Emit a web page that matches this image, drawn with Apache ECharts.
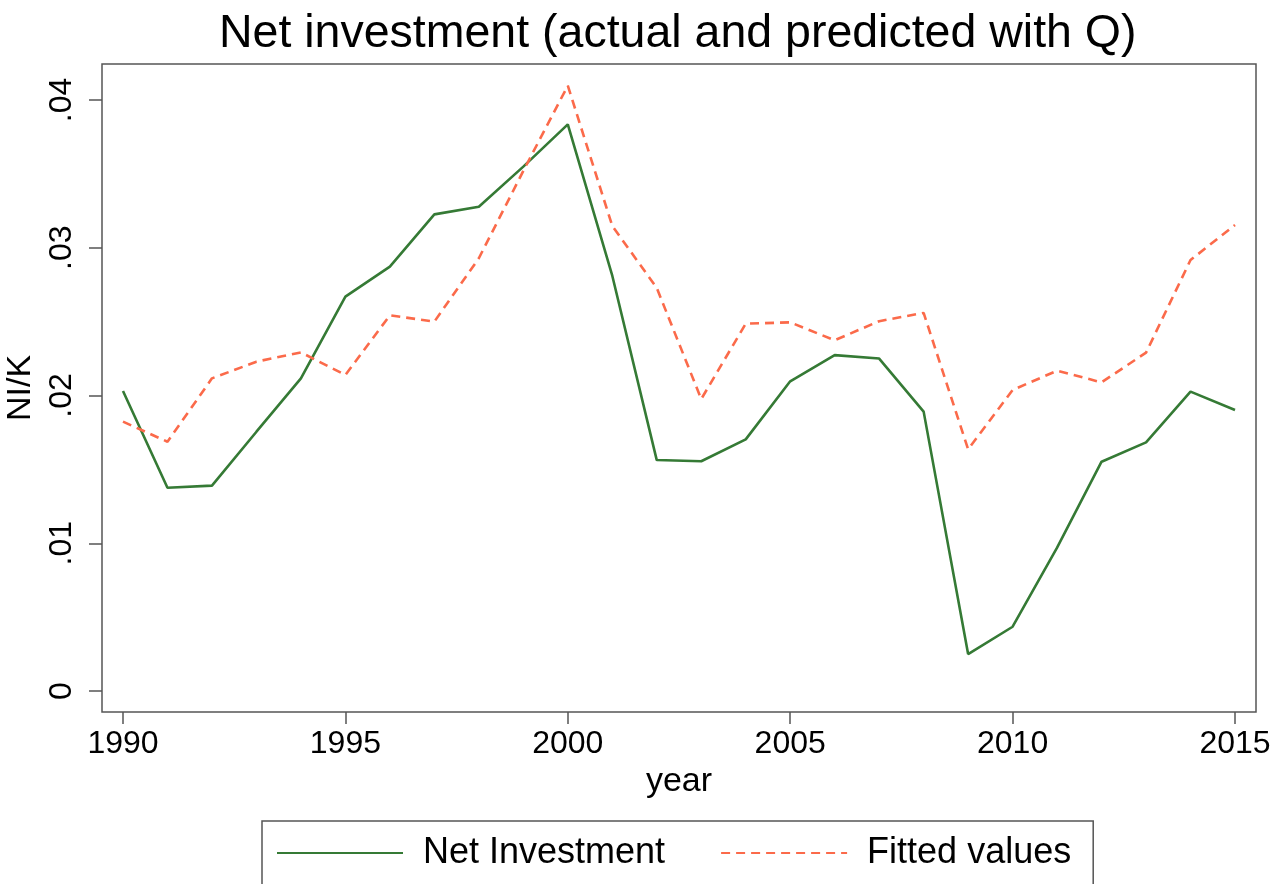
<!DOCTYPE html>
<html>
<head>
<meta charset="utf-8">
<script src="https://cdn.jsdelivr.net/npm/echarts@6/dist/echarts.min.js"></script>
<style>
html,body{margin:0;padding:0;background:#fff;}
#chart{width:1281px;height:884px;}
</style>
</head>
<body>
<div id="chart"></div>
<script>
const years = [1990,1991,1992,1993,1994,1995,1996,1997,1998,1999,2000,2001,2002,2003,2004,2005,2006,2007,2008,2009,2010,2011,2012,2013,2014,2015];
const netInvestment = [0.0203,0.01376,0.0139,0.01755,0.02116,0.02669,0.02872,0.03226,0.03278,0.03549,0.03835,0.02811,0.01563,0.01555,0.01703,0.02096,0.02273,0.0225,0.01891,0.0025,0.00435,0.0097,0.01552,0.01683,0.02026,0.01902];
const fittedValues = [0.01823,0.01687,0.02116,0.02229,0.02292,0.02139,0.02543,0.025,0.02929,0.0352,0.04097,0.03148,0.02728,0.01976,0.02486,0.02495,0.02374,0.02503,0.02559,0.01636,0.02037,0.02168,0.02089,0.0229,0.02917,0.03154];
const xTicks = [1990,1995,2000,2005,2010,2015];
const yTicks = [0,0.01,0.02,0.03,0.04];
const seriesNames = ['Net Investment','Fitted values'];
const titleText = 'Net investment (actual and predicted with Q)';
const xName = 'year';
const yName = 'NI/K';

const FONT = "'Liberation Sans', Arial, Helvetica, sans-serif";
const chart = echarts.init(document.getElementById('chart'), null, {renderer:'canvas'});
chart.setOption({
  backgroundColor:'#fff',
  animation:false,
  title:{
    text:titleText, left:214, top:6,
    textStyle:{fontFamily:FONT, fontSize:46.5, fontWeight:'normal', color:'#000'}
  },
  legend:{
    data:seriesNames, left:262, top:821, orient:'horizontal',
    padding:[14,22,14,14], borderColor:'#555', borderWidth:1.5,
    itemWidth:126, itemHeight:20, itemGap:55,
    itemStyle:{opacity:0, color:'rgba(0,0,0,0)', borderWidth:0},
    textStyle:{fontFamily:FONT, fontSize:36, color:'#000', padding:[0,0,0,15]}
  },
  grid:{left:102, top:64, width:1154, height:648, show:true, borderColor:'#555', borderWidth:1.5,
        backgroundColor:'transparent', outerBoundsMode:'none', containLabel:false},
  xAxis:{type:'value', min:1989.528, max:2015.472, position:'bottom',
     name:xName, nameLocation:'middle', nameGap:52,
     nameTextStyle:{fontFamily:FONT, fontSize:34, color:'#000'},
     axisLine:{show:false, onZero:false},
     axisTick:{show:true, inside:false, length:12, customValues:xTicks, lineStyle:{color:'#555', width:1.5}},
     axisLabel:{fontFamily:FONT, fontSize:32, color:'#000', margin:16, customValues:xTicks, formatter:v=>String(Math.round(v))},
     splitLine:{show:false}},
  yAxis:{type:'value', min:-0.001421, max:0.042437, position:'left',
     name:yName, nameLocation:'middle', nameGap:62, nameRotate:90,
     nameTextStyle:{fontFamily:FONT, fontSize:34, color:'#000'},
     axisLine:{show:false, onZero:false},
     axisTick:{show:true, inside:false, length:13, customValues:yTicks, lineStyle:{color:'#555', width:1.5}},
     axisLabel:{fontFamily:FONT, fontSize:32, color:'#000', margin:24, rotate:90, customValues:yTicks,
       formatter:v=> Math.abs(v)<1e-9 ? '0' : v.toFixed(2).replace(/^0/,'')},
     splitLine:{show:false}},
  series:[
    {name:seriesNames[0], type:'line',
     data:years.map((y,i)=>[y, netInvestment[i]]),
     showSymbol:false, symbol:'none', color:'#357a35',
     lineStyle:{color:'#357a35', width:2.6, type:'solid'}},
    {name:seriesNames[1], type:'line',
     data:years.map((y,i)=>[y, fittedValues[i]]),
     showSymbol:false, symbol:'none', color:'#fb6a4a',
     lineStyle:{color:'#fb6a4a', width:2.6, type:[9,6]}}
  ]
});
</script>
</body>
</html>
